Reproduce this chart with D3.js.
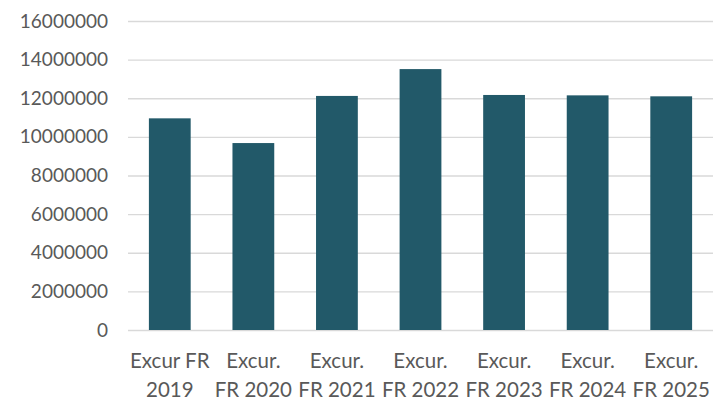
<!DOCTYPE html>
<html>
<head>
<meta charset="utf-8">
<script src="https://cdn.jsdelivr.net/npm/d3@7"></script>
<style>
    body { margin: 0; background: #fff; }
    svg text { font-family: Lato, "Open Sans", sans-serif; fill: #595959; }
</style>
</head>
<body>
<div id="chart"></div>
<script>

// Data
var categories = ['Excur FR\n2019', 'Excur.\nFR 2020', 'Excur.\nFR 2021', 'Excur.\nFR 2022',
                  'Excur.\nFR 2023', 'Excur.\nFR 2024', 'Excur.\nFR 2025'];
var values = [10960000, 9680000, 12120000, 13510000, 12170000, 12150000, 12100000];
var yTicks = [0, 2000000, 4000000, 6000000, 8000000, 10000000, 12000000, 14000000, 16000000];

var width = 717,
    height = 404;
var margin = { top: 21, right: 4, bottom: 74, left: 128 };
var barColor = '#225969',
    gridColor = '#d9d9d9';

var svg = d3.select('#chart').append('svg')
    .attr('width', width)
    .attr('height', height);

var x = d3.scaleBand()
    .domain(categories)
    .range([margin.left, width - margin.right])
    .paddingInner(0.5)
    .paddingOuter(0.25);

var y = d3.scaleLinear()
    .domain([0, 16000000])
    .range([height - margin.bottom, margin.top]);

// gridlines + y labels
var yAxis = d3.axisLeft(y)
    .tickValues(yTicks)
    .tickFormat(d3.format('d'))
    .tickSizeInner(-(width - margin.right - margin.left))
    .tickSizeOuter(0)
    .tickPadding(20);

var gy = svg.append('g')
    .attr('transform', 'translate(' + margin.left + ',0)')
    .call(yAxis);
gy.select('.domain').remove();
gy.selectAll('line').attr('stroke', gridColor).attr('stroke-width', 1.3);
gy.selectAll('text')
    .style('font-size', '19px')
    .attr('fill', '#595959');

// bars
svg.append('g').selectAll('rect')
    .data(values)
    .enter().append('rect')
    .attr('x', function(d, i){ return x(categories[i]); })
    .attr('y', function(d){ return y(d); })
    .attr('width', x.bandwidth())
    .attr('height', function(d){ return y(0) - y(d); })
    .attr('fill', barColor);

// category labels, two lines each
var labels = svg.append('g').selectAll('text')
    .data(categories)
    .enter().append('text')
    .attr('text-anchor', 'middle')
    .style('font-size', '20.5px');

labels.each(function(d){
    var cx = x(d) + x.bandwidth() / 2;
    d3.select(this).selectAll('tspan')
        .data(d.split('\n'))
        .enter().append('tspan')
        .attr('x', cx)
        .attr('y', function(line, j){ return 368 + j * 28.5; })
        .text(function(line){ return line; });
});

</script>
</body>
</html>
